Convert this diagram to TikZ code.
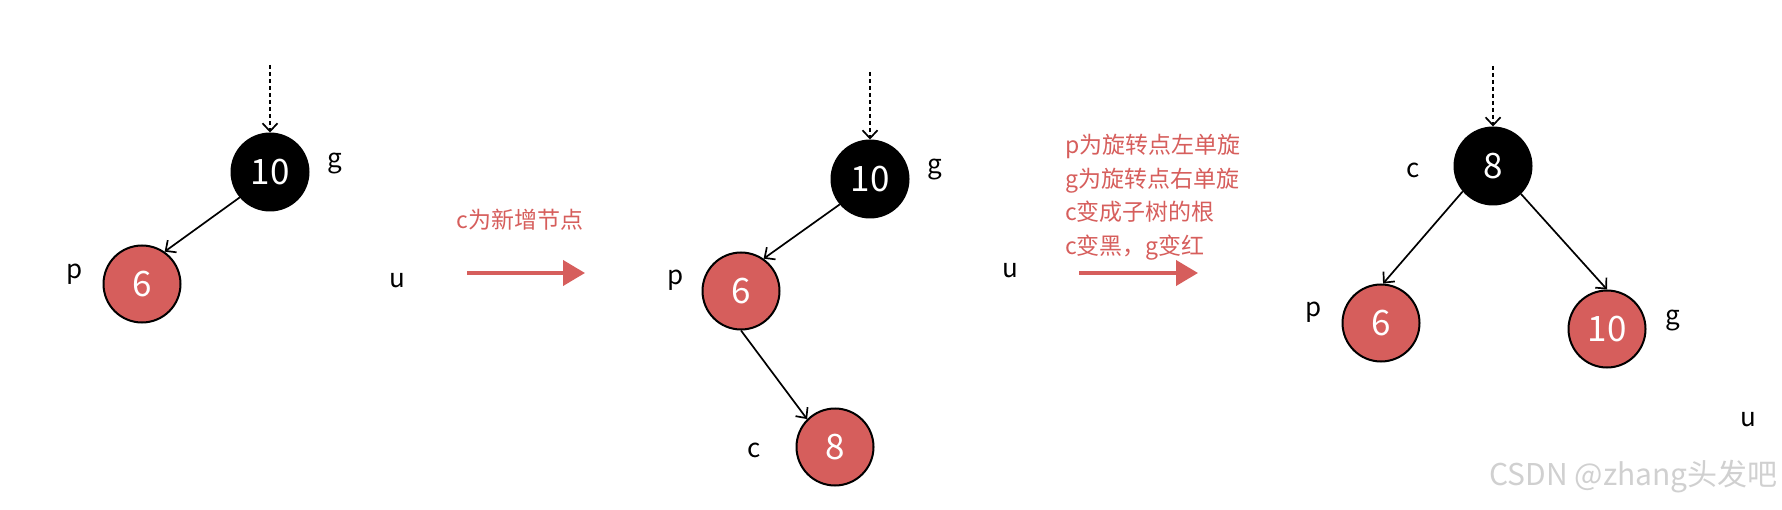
\documentclass[tikz,border=0pt]{standalone}
\usepackage{fontspec}
\setmainfont{Noto Sans CJK SC}
\usepackage{xcolor}
\usepackage{tikz}
\usetikzlibrary{arrows.meta}

\definecolor{rbred}{RGB}{214,94,92}
\definecolor{markgray}{RGB}{208,208,208}

\begin{document}
\begin{tikzpicture}[x=1pt, y=-1pt,
  every node/.style={inner sep=0pt},
  rbnode/.style={circle, draw=black, line width=2pt, minimum size=77pt, text=white, font=\fontsize{35}{40}\selectfont},
  blacknode/.style={rbnode, fill=black},
  rednode/.style={rbnode, fill=rbred},
  tag/.style={font=\fontsize{26}{30}\selectfont},
  note/.style={text=rbred, font=\fontsize{23}{33.5}\selectfont, align=left},
  link/.style={line width=1.7pt, -{Straight Barb[length=8pt,width=15pt]}},
  entry/.style={link, dash pattern=on 4pt off 3pt},
  turn/.style={rbred, line width=4pt, -{Triangle[length=22pt,width=25pt]}}]
\useasboundingbox (0,0) rectangle (1782,510);
% before
\coordinate (top1) at (270,65);
\node[blacknode] (g1) at (270,172) {10};
\node[rednode]   (p1) at (142,284) {6};
\node[tag] (g1tag) at (335,164) {g};
\node[tag] (p1tag) at (75,274) {p};
\node[tag] (u1tag) at (397,281) {u};
\draw[entry] (top1) -- (g1.north);
\draw[link] (g1.220) -- (p1.55);
\node[note] (step1) at (520,220) {c为新增节点};
\coordinate (s1a) at (467,273);
\coordinate (s1b) at (585,273);
\draw[turn] (s1a) -- (s1b);
% after insert
\coordinate (top2) at (870,72);
\node[blacknode] (g2) at (870,179) {10};
\node[rednode]   (p2) at (741,291) {6};
\node[rednode]   (c2) at (835,447) {8};
\node[tag] (g2tag) at (935,170) {g};
\node[tag] (p2tag) at (676,280) {p};
\node[tag] (c2tag) at (754,450) {c};
\node[tag] (u2tag) at (1010,271) {u};
\draw[entry] (top2) -- (g2.north);
\draw[link] (g2.220) -- (p2.55);
\draw[link] (p2.south) -- (c2.135);
\node[note, anchor=west] (step2) at (1065,197) {p为旋转点左单旋\\g为旋转点右单旋\\c变成子树的根\\c变黑，g变红};
\coordinate (s2a) at (1079,273);
\coordinate (s2b) at (1198,273);
\draw[turn] (s2a) -- (s2b);
% after rotation
\coordinate (top3) at (1493,66);
\node[blacknode] (c3) at (1493,166) {8};
\node[rednode]   (p3) at (1381,323) {6};
\node[rednode]   (g3) at (1607,329) {10};
\node[tag] (c3tag) at (1413,170) {c};
\node[tag] (p3tag) at (1314,312) {p};
\node[tag] (g3tag) at (1673,321) {g};
\node[tag] (u3tag) at (1748,420) {u};
\draw[entry] (top3) -- (c3.north);
\draw[link] (c3.220) -- (p3.87);
\draw[link] (c3.315) -- (g3.north);
\node[text=markgray, font=\fontsize{30}{34}\selectfont, anchor=east] (mark) at (1778,477) {CSDN @zhang头发吧};
\end{tikzpicture}
\end{document}
